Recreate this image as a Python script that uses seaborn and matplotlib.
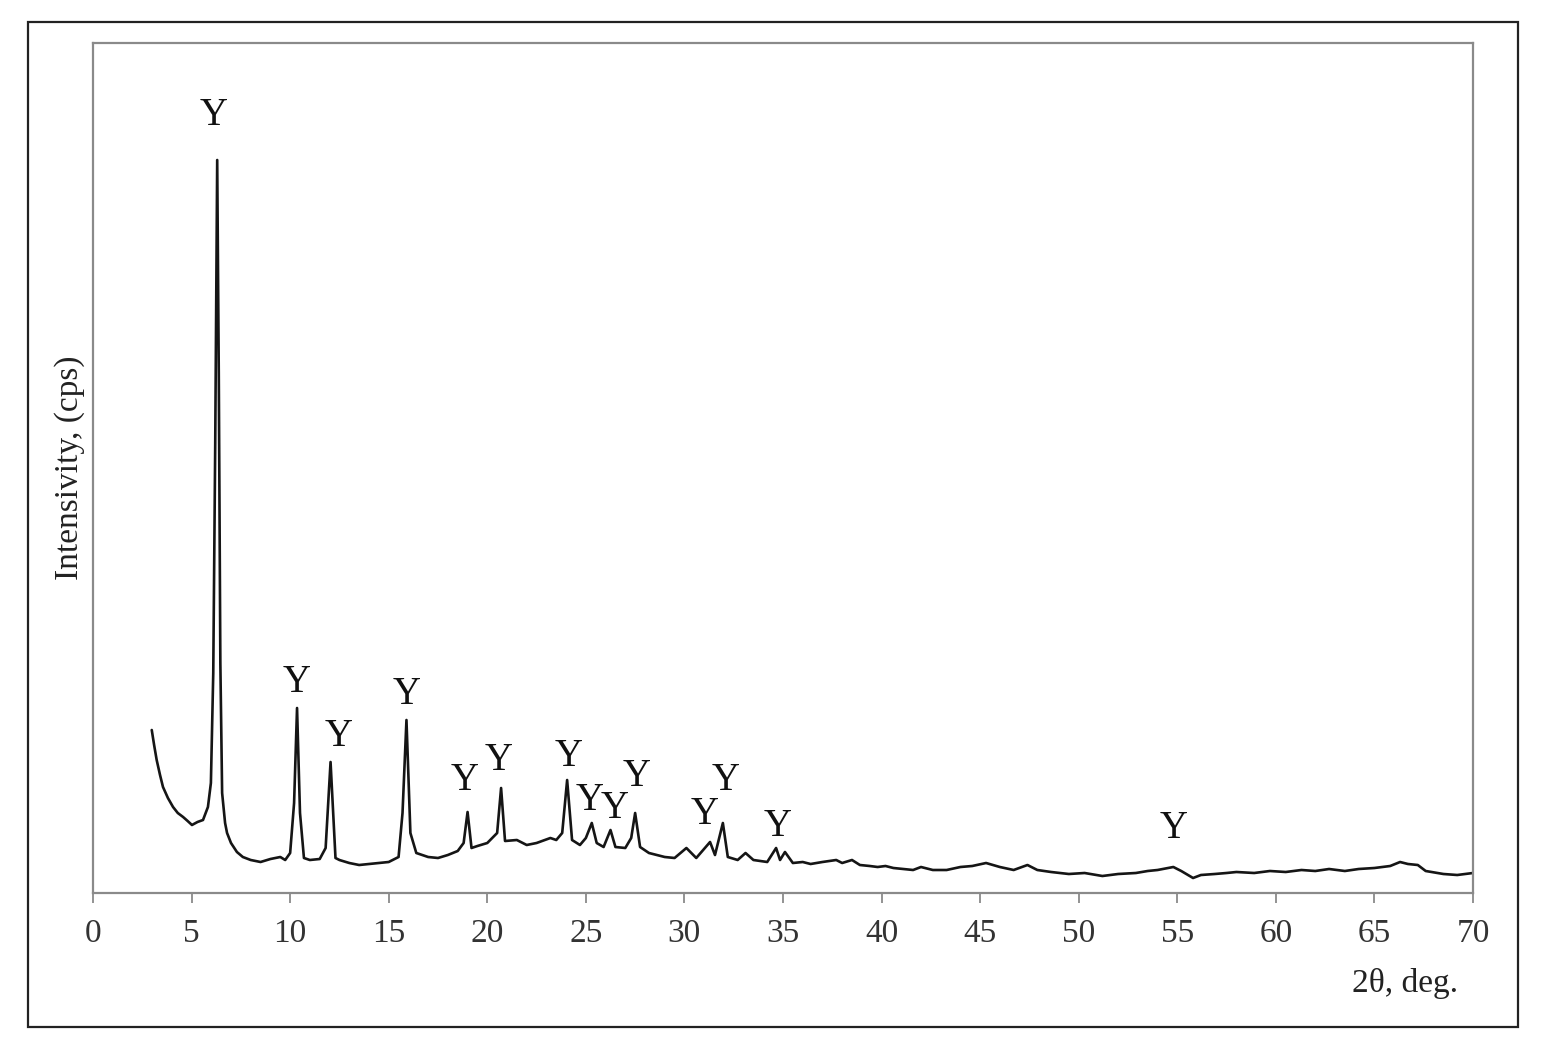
import matplotlib
matplotlib.use("Agg")
import matplotlib.pyplot as plt
import matplotlib.patches as mpatches
import seaborn as sns
import pandas as pd

# ---- data (2θ in degrees, intensity in arbitrary cps units) ----
two_theta = [2.98, 3.1, 3.23, 3.4, 3.55, 3.8, 4.06, 4.3, 4.57, 4.8, 5.02, 5.3, 5.58, 5.83,
             5.98, 6.1, 6.2, 6.3, 6.38, 6.46, 6.55, 6.7, 6.8, 7.0, 7.3, 7.6, 8.0, 8.5, 9.0,
             9.5, 9.75, 10.0, 10.2, 10.35, 10.5, 10.7, 11.0, 11.5, 11.8, 12.05, 12.3, 12.5,
             13.0, 13.5, 14.0, 14.5, 15.0, 15.5, 15.7, 15.9, 16.1, 16.4, 17.0, 17.5, 18.0,
             18.5, 18.8, 19.0, 19.2, 19.5, 20.0, 20.5, 20.7, 20.9, 21.5, 22.0, 22.5, 23.2,
             23.5, 23.8, 24.05, 24.3, 24.7, 25.0, 25.3, 25.55, 25.9, 26.25, 26.5, 27.0, 27.3,
             27.5, 27.75, 28.2, 29.0, 29.5, 30.1, 30.6, 31.3, 31.55, 31.95, 32.2, 32.7, 33.1,
             33.5, 34.2, 34.65, 34.85, 35.1, 35.5, 36.0, 36.4, 37.0, 37.7, 38.0, 38.5, 38.9,
             39.4, 39.8, 40.2, 40.6, 41.1, 41.6, 42.0, 42.6, 43.3, 44.0, 44.6, 45.3, 46.0,
             46.7, 47.4, 47.9, 48.6, 49.5, 50.3, 51.2, 52.0, 52.9, 53.5, 54.0, 54.8, 55.2,
             55.8, 56.2, 56.9, 57.5, 58.0, 58.9, 59.7, 60.5, 61.3, 62.0, 62.7, 63.5, 64.2,
             65.0, 65.8, 66.3, 66.7, 67.2, 67.6, 68.5, 69.2, 70.0]
intensity = [163, 148, 133, 118, 106, 95, 86, 80, 76, 72, 68, 71, 73, 86,
             110, 220, 450, 733, 520, 230, 100, 70, 60, 50, 41, 36, 33, 31, 34,
             36, 33, 40, 90, 185, 80, 35, 33, 34, 45, 131, 35, 33,
             30, 28, 29, 30, 31, 36, 80, 173, 60, 40, 36, 35, 38,
             42, 50, 81, 45, 47, 50, 60, 105, 52, 53, 48, 50, 55,
             53, 60, 113, 53, 48, 55, 70, 50, 46, 63, 46, 45, 55,
             80, 46, 40, 36, 35, 45, 35, 51, 38, 70, 36, 33, 40,
             33, 31, 45, 33, 41, 30, 31, 29, 31, 33, 30, 33, 28,
             27, 26, 27, 25, 24, 23, 26, 23, 23, 26, 27, 30, 26,
             23, 28, 23, 21, 19, 20, 17, 19, 20, 22, 23, 26, 22,
             15, 18, 19, 20, 21, 20, 22, 21, 23, 22, 24, 22, 24,
             25, 27, 31, 29, 28, 22, 19, 18, 20]

# peak labels ("Y") positions
label_x = [6.14, 10.35, 12.48, 15.93, 18.87, 20.6, 24.15, 25.2, 26.45, 27.6,
           31.04, 32.11, 34.75, 54.83]
label_y = [778, 211, 157, 199, 112, 133, 137, 92, 84, 117, 79, 113, 66, 65]
label_text = ["Y"] * len(label_x)

x_ticks = list(range(0, 71, 5))

df = pd.DataFrame({"two_theta": two_theta, "intensity": intensity})

sns.set_style("white")
plt.rcParams["font.family"] = ["Liberation Serif", "DejaVu Serif"]

fig = plt.figure(figsize=(15.44, 10.5), dpi=100)
ax = fig.add_axes([93 / 1544, 1 - 893 / 1050, (1473 - 93) / 1544, (893 - 43) / 1050])

sns.lineplot(data=df, x="two_theta", y="intensity", ax=ax, color="#151515",
             linewidth=1.9, sort=False, estimator=None)

for xv, yv, t in zip(label_x, label_y, label_text):
    ax.text(xv, yv, t, ha="center", va="center", fontsize=28, color="#111111")

ax.set_xlim(0, 70)
ax.set_ylim(0, 850)
ax.set_xticks(x_ticks)
ax.set_yticks([])
ax.tick_params(axis="x", direction="out", length=7, width=1.3, color="#8a8a8a",
               labelsize=24, labelcolor="#333333", pad=11, bottom=True)
for s in ax.spines.values():
    s.set_color("#8a8a8a")
    s.set_linewidth(1.6)
    s.set_visible(True)

ax.set_ylabel("Intensivity, (cps)", fontsize=24, color="#222222")
ax.yaxis.set_label_coords(-0.006, 0.5)
ax.set_xlabel("2θ, deg.", fontsize=24, color="#222222")
ax.xaxis.set_label_coords(0.951, -0.088)

frame = mpatches.Rectangle((28 / 1544, 1 - 1027 / 1050), (1518 - 28) / 1544,
                           (1027 - 22) / 1050, transform=fig.transFigure,
                           fill=False, edgecolor="#222222", linewidth=1.6)
fig.patches.append(frame)

fig.savefig("out.png", dpi=100)
